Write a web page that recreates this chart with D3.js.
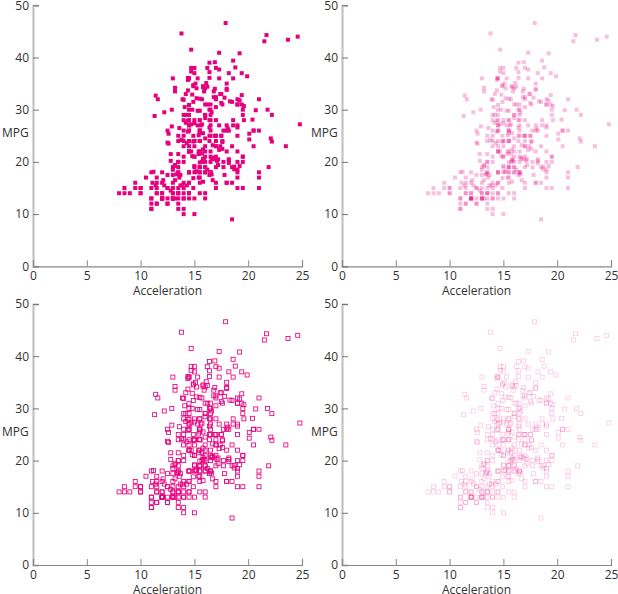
<!DOCTYPE html>
<html>
<head>
<meta charset="utf-8">
<script src="https://cdn.jsdelivr.net/npm/d3@7"></script>
<style>
html,body{margin:0;padding:0;background:#fff;}
svg{display:block;}
text{font-family:"Open Sans",sans-serif;fill:#333;}
</style>
</head>
<body>
<div id="chart"></div>
<script>
const acceleration = [12,11.5,11,12,10.5,10,9,8.5,10,8.5,10,8,9.5,10,15,15.5,15.5,16,14.5,20.5,17.5,14.5,17.5,12.5,15,14,15,13.5,18.5,
14.5,15.5,14,19,13,15.5,15.5,15.5,15.5,12,11.5,13.5,13,11.5,12,12,13.5,19,15,14.5,14,14,19.5,14.5,19,18,19,20.5,
15.5,17,23.5,19.5,16.5,12,12,13.5,13,11.5,11,13.5,13.5,12.5,13.5,12.5,14,16,14,14.5,18,19.5,18,16,17,14.5,15,16.5,
13,11.5,13,14.5,12.5,11.5,12,13,14.5,11,11,11,16.5,18,16,16.5,16,21,14,12.5,13,12.5,15,19,19.5,16.5,13.5,18.5,14,15.5,13,9.5,19.5,15.5,14,15.5,11,14,13.5,11,
16.5,17,16,17,19,16.5,21,17,17,18,16.5,14,14.5,13.5,16,15.5,16.5,15.5,14.5,16.5,19,14.5,15.5,14,15,15.5,16,
16,16,21,19.5,11.5,14,14.5,13.5,21,18.5,19,19,15,13.5,12,16,17,16,18.5,13.5,16.5,17,14.5,14,17,15,17,14.5,13.5,17.5,
15.5,16.9,14.9,17.7,15.3,13,13,13.9,12.8,15.4,14.5,17.6,17.6,22.2,22.1,14.2,17.4,17.7,21,16.2,17.8,12.2,17,16.4,13.6,15.7,13.2,21.9,15.5,16.7,12.1,12,15,14,
18.5,14.8,18.6,15.5,16.8,12.5,19,13.7,14.9,16.4,16.9,17.7,19,11.1,11.4,12.2,14.5,14.5,16,18.2,15.8,17,15.9,16.4,14.1,14.5,12.8,13.5,
21.5,14.4,19.4,18.6,16.4,15.5,13.2,12.8,19.2,18.2,15.8,15.4,17.2,17.2,15.8,16.7,18.7,15.1,13.2,13.4,11.2,13.7,16.5,14.2,14.7,14.5,14.8,16.7,17.6,14.9,15.9,13.6,15.7,15.8,14.9,16.6,
15.4,18.2,17.3,18.2,16.6,15.4,13.4,13.2,15.2,14.9,14.3,15,13,14,15.2,14.4,15,20.1,17.4,24.8,22.2,13.2,14.9,19.2,14.7,16,11.3,12.9,13.2,
14.7,18.8,15.5,16.4,16.5,18.1,20.1,18.7,15.8,15.5,17.5,15,15.2,17.9,14.4,19.2,21.7,23.7,19.9,21.8,13.8,17.3,18,15.3,11.4,12.5,15.1,14.3,17,
15.7,16.4,14.4,12.6,12.9,16.9,16.4,16.1,17.8,19.4,17.3,16,14.9,16.2,20.7,14.2,15.8,14.4,16.8,14.8,18.3,20.4,19.6,12.6,13.8,15.8,19,17.1,16.6,
19.6,18.6,18,16.2,16,18,16.4,20.5,15.3,18.2,17.6,14.7,17.3,14.5,14.5,16.9,15,15.7,16.2,16.4,17,14.5,14.7,13.9,13,17.3,15.6,24.6,11.6,18.6,19.4];

const mpg = [18,15,18,16,17,15,14,14,14,15,15,14,15,14,24,22,18,21,27,26,25,24,25,26,21,10,10,11,9,
27,28,25,25,19,16,17,19,18,14,14,14,14,12,13,13,18,22,19,18,23,28,30,30,31,35,27,26,
24,25,23,20,21,13,14,15,14,17,11,13,12,13,19,15,13,13,14,18,22,21,26,22,28,23,28,27,
13,14,13,14,15,12,13,13,14,13,12,13,18,16,18,18,23,26,11,12,13,12,18,20,21,22,18,19,21,26,15,16,29,24,20,19,15,24,20,11,
20,21,19,15,31,26,32,25,16,16,18,16,13,14,14,14,29,26,26,31,32,28,24,26,24,26,31,
19,18,15,15,16,15,16,14,17,16,15,18,21,20,13,29,23,20,23,24,25,24,18,29,19,23,23,22,25,33,
28,25,25,26,27,17.5,16,15.5,14.5,22,22,24,22.5,29,24.5,29,33,20,18,18.5,17.5,29.5,32,28,26.5,20,13,19,19,16.5,16.5,13,13,13,
31.5,30,36,25.5,33.5,17.5,17,15.5,15,17.5,20.5,19,18.5,16,15.5,15.5,16,29,24.5,26,25.5,30.5,33.5,30,30.5,22,21.5,21.5,
43.1,36.1,32.8,39.4,36.1,19.9,19.4,20.2,19.2,20.5,20.2,25.1,20.5,19.4,20.6,20.8,18.6,18.1,19.2,17.7,18.1,17.5,30,27.5,27.2,30.9,21.1,23.2,23.8,23.9,20.3,17,21.6,16.2,31.5,29.5,
21.5,19.8,22.3,20.2,20.6,17,17.6,16.5,18.2,16.9,15.5,19.2,18.5,31.9,34.1,35.7,27.4,25.4,23,27.2,23.9,34.2,34.5,31.8,37.3,28.4,28.8,26.8,33.5,
41.5,38.1,32.1,37.2,28,26.4,24.3,19.1,34.3,29.8,31.3,37,32.2,46.6,27.9,40.8,44.3,43.4,36.4,30,44.6,40.9,33.8,29.8,32.7,23.7,35,23.6,32.4,
27.2,26.6,25.8,23.5,30,39.1,39,35.1,32.3,37,37.7,34.1,34.7,34.4,29.9,33,34.5,33.7,32.4,32.9,31.6,28.1,30.7,25.4,24.2,22.4,26.6,20.2,17.6,
28,27,34,31,29,27,24,23,36,37,31,38,36,36,36,34,38,32,38,25,38,26,22,32,36,27,27,44,32,28,31];

const xTicks = [0, 5, 10, 15, 20, 25];
const yTicks = [0, 10, 20, 30, 40, 50];
const xTitle = "Acceleration";
const yTitle = "MPG";
const panels = [
  {filled: true,  opacity: 1},
  {filled: true,  opacity: 0.25},
  {filled: false, opacity: 1},
  {filled: false, opacity: 0.2}
];

const color = "#e6007e";
const W = 618, H = 594;
const pw = 269, ph = 261;
const data = acceleration.map((a, i) => ({a, m: mpg[i]}));

const svg = d3.select("#chart").append("svg").attr("width", W).attr("height", H);

panels.forEach((p, k) => {
  const col = k % 2, row = Math.floor(k / 2);
  const ox = 33 + col * 309, oy = 5.3 + row * 298.7;
  const g = svg.append("g").attr("transform", `translate(${ox},${oy})`);
  const x = d3.scaleLinear().domain([0, 25]).range([0, pw]);
  const y = d3.scaleLinear().domain([0, 50]).range([ph, 0]);

  // y axis
  const ya = g.append("g").call(d3.axisLeft(y).tickValues(yTicks).tickSize(-6).tickPadding(4));
  ya.select(".domain").attr("stroke", "#c4c4c4").attr("stroke-width", 2.2);
  ya.selectAll(".tick line").attr("stroke", "#777");
  ya.selectAll(".tick text").attr("font-size", 12).attr("fill", "#333").attr("font-family", "Open Sans, sans-serif");

  // x axis
  const xa = g.append("g").attr("transform", `translate(0,${ph})`)
    .call(d3.axisBottom(x).tickValues(xTicks).tickSize(-6).tickPadding(5));
  xa.select(".domain").attr("stroke", "#888").attr("stroke-width", 1.2);
  xa.selectAll(".tick line").attr("stroke", "#888");
  xa.selectAll(".tick text").attr("font-size", 12).attr("fill", "#333").attr("font-family", "Open Sans, sans-serif");

  g.append("text").attr("x", pw / 2).attr("y", ph + 29).attr("text-anchor", "middle")
    .attr("font-size", 12).text(xTitle);
  g.append("text").attr("x", -31).attr("y", 127.6).attr("dy", "0.35em")
    .attr("font-size", 12).text(yTitle);

  const s = 4;
  g.append("g").selectAll("rect").data(data).join("rect")
    .attr("x", d => x(d.a) - s / 2)
    .attr("y", d => y(d.m) - s / 2)
    .attr("width", s).attr("height", s)
    .attr("fill", p.filled ? color : "none")
    .attr("stroke", p.filled ? "none" : color)
    .attr("stroke-width", 0.85)
    .attr("opacity", p.opacity);
});
</script>
</body>
</html>
